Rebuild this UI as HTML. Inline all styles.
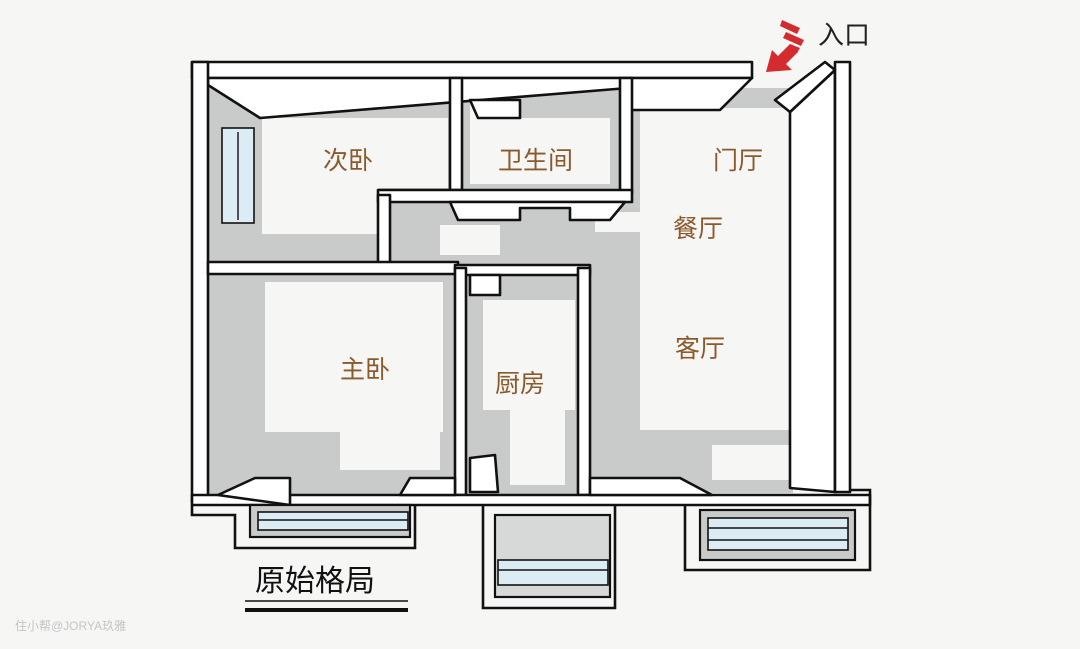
<!DOCTYPE html>
<html><head><meta charset="utf-8"><style>
html,body{margin:0;padding:0;background:#f6f6f5;}
svg{display:block}
text{font-family:"Liberation Sans","Noto Sans CJK SC",sans-serif;}
</style></head><body>
<svg width="1080" height="649" viewBox="0 0 1080 649" xmlns="http://www.w3.org/2000/svg">
<rect width="1080" height="649" fill="#f6f6f5"/>
<g fill="#c8cbca">
<rect x="208" y="78" width="250" height="190"/>
<rect x="462" y="78" width="165" height="115"/>
<rect x="380" y="190" width="250" height="80"/>
<rect x="628" y="88" width="165" height="405"/>
<rect x="208" y="272" width="250" height="225"/>
<rect x="462" y="270" width="125" height="225"/>
<rect x="585" y="260" width="60" height="235"/>
</g>
<g fill="#f6f6f5">
<polygon points="262,118 448,118 448,188 378,188 378,234 262,234"/>
<rect x="470" y="118" width="140" height="66"/>
<rect x="470" y="100" width="50" height="18"/>
<rect x="640" y="108" width="150" height="322"/>
<rect x="712" y="445" width="78" height="35"/>
<rect x="595" y="212" width="45" height="20"/>
<rect x="265" y="282" width="178" height="150"/>
<rect x="340" y="430" width="100" height="40"/>
<rect x="483" y="300" width="92" height="110"/>
<rect x="510" y="410" width="55" height="75"/>
<rect x="440" y="225" width="60" height="30"/>
</g>
<g fill="#fff" stroke="#111" stroke-width="2.6" stroke-linejoin="round">
<rect x="192" y="62" width="560" height="16"/>
<polygon points="208,78 752,78 720,110 630,110 628,88 260,118 208,85"/>
<rect x="192" y="62" width="16" height="440"/>
<polygon points="790,112 835,70 835,492 790,488"/>
<rect x="835" y="62" width="15" height="430"/>
<polygon points="775,100 825,62 835,70 790,112"/>
<rect x="450" y="78" width="12" height="112"/>
<rect x="620" y="78" width="12" height="115"/>
<rect x="378" y="190" width="254" height="12"/>
<polygon points="450,202 625,202 610,220 570,220 570,208 520,208 520,220 458,220"/>
<rect x="378" y="195" width="12" height="72"/>
<polygon points="470,100 520,100 520,118 478,118"/>
<rect x="208" y="262" width="250" height="12"/>
<rect x="455" y="265" width="135" height="10"/>
<rect x="455" y="268" width="11" height="227"/>
<rect x="578" y="268" width="12" height="227"/>
<polygon points="470,275 500,275 500,295 470,295"/>
<polygon points="470,458 495,455 498,492 470,492"/>
<polygon points="192,495 870,495 870,505 192,505"/>
<polygon points="218,495 255,478 290,478 290,505"/>
<polygon points="410,478 455,478 455,495 400,495"/>
<polygon points="590,478 680,478 712,495 590,495"/>
</g>
<g stroke="#111" stroke-width="2.6" fill="none">
<polyline points="192,505 192,515 235,515 235,548 415,548 415,505"/>
<polyline points="483,505 483,608 615,608 615,505"/>
<polyline points="685,505 685,570 870,570 870,490 850,490"/>
</g>
<g stroke="#111" stroke-width="2.2">
<rect x="250" y="505" width="160" height="32" fill="#c8cbca"/>
<rect x="495" y="515" width="115" height="82" fill="#d7d9d8"/>
<rect x="700" y="510" width="155" height="50" fill="#c8cbca"/>
</g>
<g fill="#dcecf5" stroke="#111" stroke-width="1.6">
<rect x="258" y="512" width="150" height="18"/>
<rect x="498" y="560" width="110" height="25"/>
<rect x="708" y="518" width="140" height="32"/>
<rect x="222" y="128" width="32" height="95"/>
</g>
<g stroke="#111" stroke-width="1.4">
<line x1="258" y1="520" x2="408" y2="520"/>
<line x1="498" y1="570" x2="608" y2="570"/>
<line x1="708" y1="528" x2="848" y2="528"/>
<line x1="708" y1="540" x2="848" y2="540"/>
<line x1="238" y1="132" x2="238" y2="220"/>
</g>
<g fill="#d32b2e">
<polygon points="766,72 772,50 778,56 790,44 798,52 786,64 792,70"/>
<polygon points="782,20 800,28 797,34 780,26"/>
<polygon points="786,32 804,40 801,46 783,38"/>
<polygon points="790,44 800,48 797,53 788,49"/>
</g>
<g fill="#8a5a2c" font-size="25">
<text x="323" y="169">次卧</text>
<text x="498" y="169">卫生间</text>
<text x="713" y="169">门厅</text>
<text x="673" y="237">餐厅</text>
<text x="675" y="357">客厅</text>
<text x="340" y="378">主卧</text>
<text x="495" y="392">厨房</text>
</g>
<text x="818" y="44" font-size="26" fill="#222">入口</text>
<text x="255" y="591" font-size="30" fill="#111">原始格局</text>
<line x1="245" y1="601" x2="408" y2="601" stroke="#111" stroke-width="1.5"/>
<line x1="245" y1="610" x2="408" y2="610" stroke="#111" stroke-width="4"/>
<text x="15" y="630" font-size="12" fill="#c4c4c4">住小帮@JORYA玖雅</text>
</svg>
</body></html>
